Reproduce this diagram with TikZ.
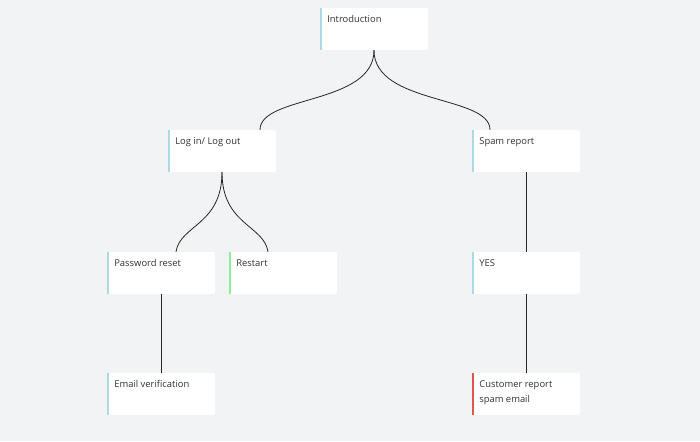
\documentclass[tikz,border=0pt]{standalone}
\usepackage{fontspec}
\setmainfont{Open Sans}
\usetikzlibrary{positioning,calc}
\definecolor{bg}{HTML}{F2F3F5}
\definecolor{barblue}{HTML}{ADD8E6}
\definecolor{bargreen}{HTML}{90EE90}
\definecolor{barred}{HTML}{E0574F}
\definecolor{txt}{HTML}{333333}
\tikzset{
  card/.style={fill=white, rounded corners=2pt, minimum width=108pt, minimum height=42pt,
    inner sep=0pt},
  wire/.style={draw=black!85, line width=0.8pt},
  lbl/.style={anchor=north west, text=txt, font=\fontsize{9.4}{15.5}\selectfont, align=left}
}
% card with coloured strip at its left edge
\newcommand{\card}[5]{%
  \node[card] (#1) at (#2) {};
  \fill[#3] (#1.north west) rectangle ++(2.5pt,-42pt);
  \node[lbl] at ($(#1.north west)+(4pt,-4pt)$) {#4};
}
\begin{document}
\begin{tikzpicture}[x=1pt,y=-1pt]
\fill[bg] (0,0) rectangle (700,441);
\useasboundingbox (0,0) rectangle (700,441);
%cards
\card{intro}{374,29}{barblue}{Introduction}{}
\card{login}{222,151}{barblue}{Log in/ Log out}{}
\card{spam}{526,151}{barblue}{Spam report}{}
\card{pwreset}{161,273}{barblue}{Password reset}{}
\card{restart}{283,273}{bargreen}{Restart}{}
\card{yes}{526,273}{barblue}{YES}{}
\card{email}{161,394}{barblue}{Email verification}{}
\card{customer}{526,394}{barred}{Customer report\\spam email}{}
%connectors
\draw[wire] (intro.south) .. controls (374,105) and (260,95) .. ($(login.north)+(38,0)$);
\draw[wire] (intro.south) .. controls (374,105) and (490,95) .. ($(spam.north)+(-36,0)$);
\draw[wire] (login.south) .. controls (222,225) and (180,225) .. ($(pwreset.north)+(15,0)$);
\draw[wire] (login.south) .. controls (222,225) and (264,225) .. ($(restart.north)+(-15,0)$);
\draw[wire] (spam) -- (yes);
\draw[wire] (yes) -- (customer);
\draw[wire] (pwreset) -- (email);
\end{tikzpicture}
\end{document}
